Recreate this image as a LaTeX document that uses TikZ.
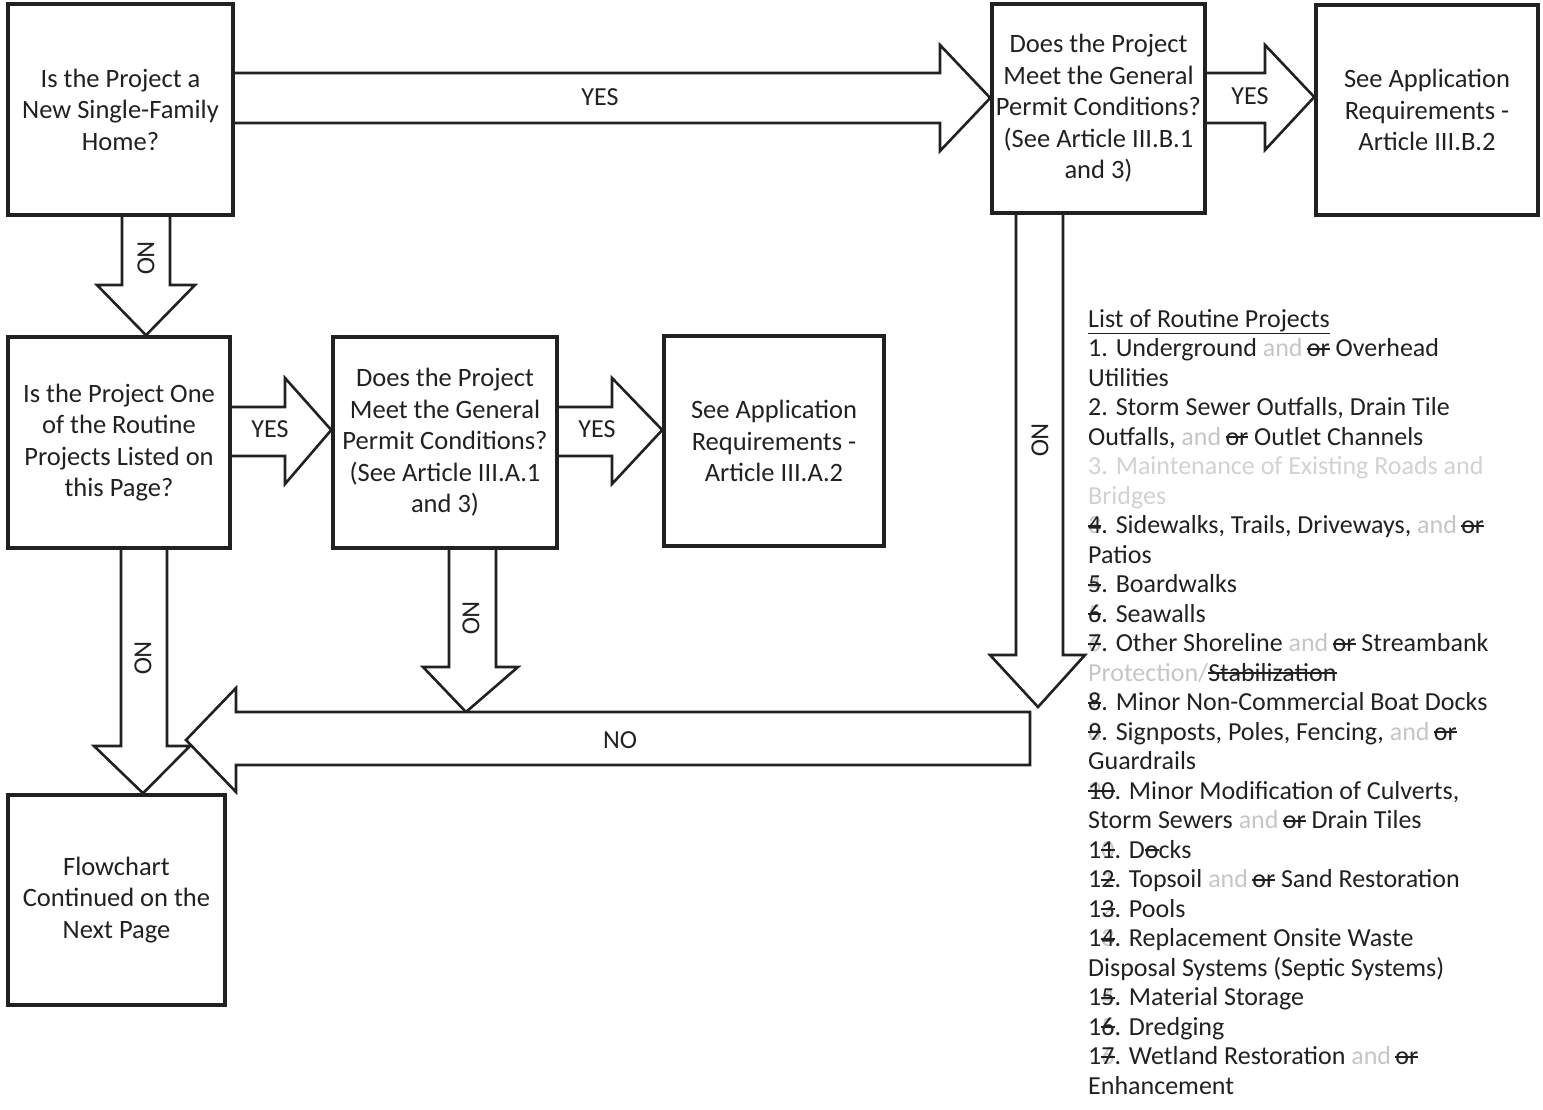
\documentclass[tikz,border=0pt]{standalone}
\usepackage{fontspec}
\setmainfont{Carlito}
\usetikzlibrary{calc}
\definecolor{ink}{gray}{0.13}
\newcommand\fnt[1]{\textcolor{gray!45}{#1}}
\newcommand\strk[1]{\begingroup\setbox0\hbox{#1}\rlap{\rule[0.27em]{\wd0}{0.07em}}\box0\endgroup}
\newcommand\rn[2]{\rlap{\fnt{#2}}\strk{#1}}
\newcommand\ao{\fnt{and}\,\strk{or}}
\pgfdeclarelayer{bg}
\pgfsetlayers{bg,main}
\begin{document}
\begin{tikzpicture}[x=1pt,y=-1pt,
  box/.style={draw=ink,line width=3.5pt,fill=white,inner sep=0pt,align=center,text=ink,
    font=\fontsize{26.5}{31.5}\selectfont},
  barrow/.style={draw=ink,line width=2.6pt,fill=white,line join=miter},
  lbl/.style={text=ink,font=\fontsize{26}{28}\selectfont,inner sep=0pt}]
\begin{pgfonlayer}{bg}
\fill[white] (0,0) rectangle (1543,1110);
\end{pgfonlayer}
\useasboundingbox (0,0) rectangle (1543,1110);

% boxes
\node[box,minimum width=225pt,minimum height=211pt] (A) at (120.5,109.5) {Is the Project a\\New Single-Family\\Home?};
\node[box,minimum width=213pt,minimum height=209pt] (B) at (1098.5,108.5) {Does the Project\\Meet the General\\Permit Conditions?\\(See Article III.B.1\\and 3)};
\node[box,minimum width=222pt,minimum height=210pt] (C) at (1427,110) {See Application\\Requirements -\\Article III.B.2};
\node[box,minimum width=222pt,minimum height=211pt] (D) at (119,442.5) {Is the Project One\\of the Routine\\Projects Listed on\\this Page?};
\node[box,minimum width=224pt,minimum height=211pt] (E) at (445,442.5) {Does the Project\\Meet the General\\Permit Conditions?\\(See Article III.A.1\\and 3)};
\node[box,minimum width=220pt,minimum height=210pt] (F) at (774,441) {See Application\\Requirements -\\Article III.A.2};
\node[box,minimum width=217pt,minimum height=210pt] (G) at (116.5,900) {Flowchart\\Continued on the\\Next Page};

\coordinate (noend) at (1030,738.5);
\coordinate (notip) at (186,740);
\coordinate (t1) at (466,712);
\coordinate (t2) at (1038,707);

\begin{pgfonlayer}{bg}
% A -> B  YES
\draw[barrow] (A.east |- 0,73) -- (940,73) -- (940,45) -- (B.west |- 0,98) -- (940,151) -- (940,123) -- (A.east |- 0,123);
% B -> C  YES
\draw[barrow] (B.east |- 0,73) -- (1265,73) -- (1265,45) -- (C.west |- 0,97) -- (1265,150) -- (1265,123) -- (B.east |- 0,123);
% A -> D  NO
\draw[barrow] (A.south -| 122,0) -- (122,285) -- (97,285) -- (D.north -| 146,0) -- (195,285) -- (170,285) -- (A.south -| 170,0);
% D -> E  YES
\draw[barrow] (D.east |- 0,407) -- (285,407) -- (285,378) -- (E.west |- 0,430) -- (285,484) -- (285,456) -- (D.east |- 0,456);
% E -> F  YES
\draw[barrow] (E.east |- 0,407) -- (612,407) -- (612,378) -- (F.west |- 0,430) -- (612,484) -- (612,456) -- (E.east |- 0,456);
% D -> G  NO
\draw[barrow] (D.south -| 121,0) -- (121,746) -- (94,746) -- (G.north -| 143,0) -- (190,746) -- (167,746) -- (D.south -| 167,0);
% E -> big NO
\draw[barrow] (E.south -| 449,0) -- (449,667) -- (423,667) -- (t1) -- (518,667) -- (496,667) -- (E.south -| 496,0);
% B -> big NO
\draw[barrow] (B.south -| 1016,0) -- (1016,655) -- (990,655) -- (t2) -- (1085,655) -- (1063,655) -- (B.south -| 1063,0);
% big NO arrow (leftwards)
\draw[barrow] (noend |- 0,712) -- (236,712) -- (236,688) -- (notip) -- (236,792) -- (236,765) -- (noend |- 0,765) -- cycle;
\end{pgfonlayer}

% labels
\node[lbl] (yes1) at (600,97) {YES};
\node[lbl] (yes2) at (1250,96) {YES};
\node[lbl] (yes3) at (270,429) {YES};
\node[lbl] (yes4) at (597,429) {YES};
\node[lbl,rotate=-90] (no1) at (146,258) {NO};
\node[lbl,rotate=-90] (no2) at (143,658) {NO};
\node[lbl,rotate=-90] (no3) at (471,618) {NO};
\node[lbl,rotate=-90] (no4) at (1040,440) {NO};
\node[lbl] (no5) at (620,740) {NO};

% list
\node[anchor=north west,inner sep=0pt,align=left,text=ink,font=\fontsize{26}{29.5}\selectfont] (list) at (1088,309) {%
\underline{List of Routine Projects}\\
1. Underground \ao{} Overhead\\
Utilities\\
2. Storm Sewer Outfalls, Drain Tile\\
Outfalls, \ao{} Outlet Channels\\
\textcolor{gray!35}{3. Maintenance of Existing Roads and}\\
\textcolor{gray!35}{Bridges}\\
\rn{4}{3}. Sidewalks, Trails, Driveways, \ao\\
Patios\\
\rn{5}{4}. Boardwalks\\
\rn{6}{5}. Seawalls\\
\rn{7}{6}. Other Shoreline \ao{} Streambank\\
\fnt{Protection/}\strk{Stabilization}\\
\rn{8}{7}. Minor Non-Commercial Boat Docks\\
\rn{9}{8}. Signposts, Poles, Fencing, \ao\\
Guardrails\\
\rn{10}{9}. Minor Modification of Culverts,\\
Storm Sewers \ao{} Drain Tiles\\
1\rn{1}{0}. D\rn{o}{e}cks\\
1\rn{2}{1}. Topsoil \ao{} Sand Restoration\\
1\rn{3}{2}. Pools\\
1\rn{4}{3}. Replacement Onsite Waste\\
Disposal Systems (Septic Systems)\\
1\rn{5}{4}. Material Storage\\
1\rn{6}{5}. Dredging\\
1\rn{7}{6}. Wetland Restoration \ao\\
Enhancement};
\end{tikzpicture}
\end{document}
